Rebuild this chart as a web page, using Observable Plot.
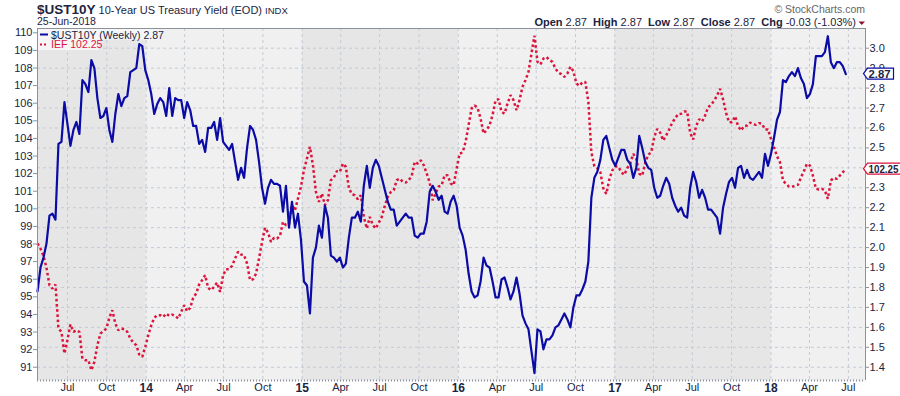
<!DOCTYPE html>
<html><head><meta charset="utf-8">
<script src="https://cdn.jsdelivr.net/npm/d3@7"></script>
<script src="https://cdn.jsdelivr.net/npm/@observablehq/plot@0.6"></script>
<style>
html,body{margin:0;padding:0;background:#fff;}
#wrap{position:relative;width:900px;height:396px;overflow:hidden;}
svg text{white-space:pre;}
</style></head><body><div id="wrap"></div>
<script>
// ---------- data (weekly closes) ----------
const firstWeek = "2013-04-22";
const ust10y = [
1.78,1.90,1.95,2.02,2.16,2.17,2.14,2.52,2.53,2.73,
2.62,2.51,2.59,2.63,2.57,2.84,2.82,2.78,2.94,2.90,
2.75,2.65,2.66,2.70,2.59,2.53,2.67,2.77,2.71,2.75,
2.76,2.88,2.89,2.90,3.02,3.01,2.89,2.84,2.77,2.67,
2.72,2.75,2.73,2.66,2.80,2.66,2.75,2.74,2.74,2.65,
2.73,2.69,2.61,2.61,2.52,2.54,2.48,2.60,2.60,2.63,
2.54,2.65,2.53,2.51,2.49,2.52,2.43,2.34,2.40,2.35,
2.50,2.61,2.59,2.54,2.43,2.30,2.22,2.30,2.34,2.32,
2.32,2.31,2.18,2.31,2.10,2.23,2.10,2.17,2.04,1.83,
1.81,1.67,1.95,2.00,2.11,2.05,2.21,2.15,1.96,1.95,
1.93,1.95,1.90,1.92,2.05,2.15,2.15,2.18,2.13,2.31,
2.41,2.30,2.40,2.44,2.41,2.35,2.29,2.23,2.19,2.19,
2.11,2.13,2.15,2.17,2.15,2.15,2.06,2.05,2.07,2.07,
2.13,2.28,2.31,2.28,2.24,2.26,2.18,2.17,2.23,2.26,
2.21,2.10,2.06,1.99,1.87,1.78,1.75,1.76,1.83,1.95,
1.91,1.90,1.83,1.75,1.75,1.84,1.85,1.80,1.74,1.78,
1.85,1.77,1.66,1.62,1.59,1.48,1.37,1.59,1.58,1.49,
1.54,1.54,1.56,1.60,1.61,1.64,1.67,1.64,1.60,1.70,
1.76,1.76,1.79,1.83,1.93,2.25,2.35,2.38,2.44,2.54,
2.56,2.50,2.44,2.41,2.45,2.49,2.49,2.44,2.42,2.35,
2.40,2.56,2.50,2.43,2.40,2.39,2.30,2.25,2.26,2.31,
2.35,2.32,2.25,2.21,2.18,2.20,2.16,2.15,2.30,2.38,
2.33,2.25,2.29,2.25,2.19,2.19,2.17,2.15,2.07,2.20,
2.27,2.33,2.35,2.30,2.40,2.41,2.35,2.39,2.35,2.34,
2.36,2.38,2.35,2.47,2.41,2.47,2.55,2.64,2.68,2.84,
2.83,2.86,2.88,2.86,2.90,2.85,2.82,2.75,2.77,2.82,
2.96,2.96,2.96,2.98,3.06,2.93,2.90,2.93,2.93,2.91,
2.87];
const ief = [
98.03,97.74,97.33,96.65,95.66,95.47,95.70,93.20,93.01,91.78,
92.54,93.43,93.01,93.10,93.01,91.49,91.40,91.40,90.83,91.31,
92.25,92.91,93.05,93.20,93.81,94.24,93.48,93.10,93.20,93.16,
93.01,92.63,92.40,92.25,91.72,91.59,92.16,92.82,93.39,93.81,
93.96,93.96,93.86,94.05,93.92,93.99,93.92,93.77,94.15,94.52,
94.18,94.37,94.94,95.19,95.70,95.95,96.23,95.51,95.38,95.57,
95.81,95.28,96.23,96.57,96.57,96.76,97.18,97.56,97.40,97.37,
96.89,95.95,96.00,96.32,97.18,98.12,98.92,98.65,98.12,98.35,
98.31,98.46,99.26,99.07,99.11,100.21,99.92,100.59,101.25,102.20,
102.86,103.52,102.48,100.96,100.40,100.87,100.21,100.49,101.63,101.78,
102.14,102.10,102.57,102.38,101.19,100.83,100.77,100.55,100.77,99.54,
98.88,99.54,99.07,98.88,99.22,99.54,100.17,100.68,100.95,101.06,
101.63,101.72,101.53,101.49,101.63,101.87,102.67,102.57,102.76,102.48,
102.01,101.49,100.49,100.87,101.27,101.34,101.91,101.91,101.44,101.34,
102.29,103.14,103.20,103.81,104.75,105.70,105.87,105.74,105.13,104.28,
104.47,104.75,105.32,106.17,106.23,105.51,105.41,105.98,106.46,106.17,
105.60,106.17,106.93,107.31,107.78,108.82,109.83,108.35,108.20,108.54,
108.63,108.45,108.35,107.97,107.74,107.65,107.50,107.69,108.07,107.82,
107.12,106.99,107.18,107.21,106.08,103.22,102.42,102.31,102.08,101.17,
100.85,101.67,102.18,102.40,102.40,102.08,101.93,102.31,102.59,103.12,
102.84,101.99,101.89,102.61,103.07,103.22,104.07,104.54,104.32,103.88,
104.17,104.51,104.89,105.15,105.38,105.40,105.53,105.53,104.32,103.94,
104.70,105.09,104.96,105.30,105.78,105.91,106.14,106.44,106.82,106.21,
105.45,104.92,104.92,105.26,104.70,104.45,104.70,104.73,104.90,104.81,
104.77,104.87,104.83,104.51,104.51,103.98,103.50,102.99,102.65,101.61,
101.42,101.27,101.25,101.32,101.36,101.78,102.14,102.56,102.46,101.89,
101.14,101.10,101.14,101.04,100.57,101.61,101.76,101.70,101.89,102.08,
102.25];
const yieldTicks = [1.4,1.5,1.6,1.7,1.8,1.9,2.0,2.1,2.2,2.3,2.4,2.5,2.6,2.7,2.8,2.9,3.0];
const iefTicks = [91,92,93,94,95,96,97,98,99,100,101,102,103,104,105,106,107,108,109,110];
const monthTicks = ["2013-07-01","2013-10-01","2014-04-01","2014-07-01","2014-10-01",
  "2015-04-01","2015-07-01","2015-10-01","2016-04-01","2016-07-01","2016-10-01",
  "2017-04-01","2017-07-01","2017-10-01","2018-04-01","2018-07-01"];
const yearTicks = ["2014-01-01","2015-01-01","2016-01-01","2017-01-01","2018-01-01"];
const shadedYears = [["2013-04-22","2014-01-01"],["2015-01-01","2016-01-01"],["2017-01-01","2018-01-01"]];
const xDomain = ["2013-04-22","2018-08-10"];
const yDomain = [1.3335, 3.0988];
// left (IEF) axis aligned onto the right (yield) axis: 91 <-> 1.4, 110 <-> 3.077
const iefAxisMap = {ief: [91, 110], yield: [1.4, 3.0772]};
const headerStats = [["Open","2.87"],["High","2.87"],["Low","2.87"],["Close","2.87"],["Chg","-0.03 (-1.03%)"]];

// ---------- build ----------
const BLUE = "#0b0ba6", RED = "#dc143c", INK = "#1b2440", AXIS = "#8c929c";
const toYield = d3.scaleLinear().domain(iefAxisMap.ief).range(iefAxisMap.yield);
const D = s => new Date(s);
const rows = ust10y.map((v, i) => ({date: d3.utcDay.offset(D(firstWeek), 7 * i), ust: v, ief: ief[i]}));
const allTicks = monthTicks.concat(yearTicks).map(D);

const chart = Plot.plot({
  width: 900, height: 396,
  marginTop: 28, marginRight: 35, marginBottom: 16, marginLeft: 37,
  style: {fontFamily: "'Liberation Sans', Arial, sans-serif", fontSize: "11px", color: INK, background: "transparent", overflow: "visible"},
  x: {type: "utc", domain: xDomain.map(D)},
  y: {domain: yDomain},
  marks: [
    Plot.frame({fill: "#f0f0f0", stroke: null}),
    Plot.rect(shadedYears, {x1: d => D(d[0]), x2: d => D(d[1]), fill: "#e6e6e6"}),
    Plot.gridY(yieldTicks, {stroke: "#c3cbd6", strokeOpacity: 1, strokeDasharray: "3,3"}),
    Plot.gridX(allTicks, {stroke: "#c3cbd6", strokeOpacity: 1, strokeDasharray: "3,3"}),
    Plot.line(rows, {x: "date", y: d => toYield(d.ief), stroke: RED, strokeWidth: 2.5, strokeDasharray: "2.6,2.6", strokeLinecap: "butt", strokeLinejoin: "miter"}),
    Plot.line(rows, {x: "date", y: "ust", stroke: BLUE, strokeWidth: 2.2}),
    Plot.axisY(yieldTicks, {anchor: "right", tickFormat: d3.format(".1f"), tickSize: 3, tickPadding: 1, stroke: AXIS, label: null}),
    Plot.axisY(iefTicks.map(toYield), {anchor: "left", tickFormat: d => Math.round(toYield.invert(d)), tickSize: 4, tickPadding: 1, stroke: AXIS, label: null}),
    Plot.axisX(monthTicks.map(D), {tickFormat: d3.utcFormat("%b"), tickSize: 0, tickPadding: 3, label: null}),
    Plot.axisX(yearTicks.map(D), {tickFormat: d3.utcFormat("%y"), tickSize: 0, tickPadding: 3, fontWeight: "bold", fontSize: 12, label: null}),
    Plot.ruleX(xDomain.map(D), {stroke: AXIS}),
    Plot.ruleY([yDomain[1]], {stroke: AXIS}),
    Plot.ruleY([yDomain[0]], {stroke: AXIS, strokeWidth: 2, strokeDasharray: "1,2"})
  ]
});
document.getElementById("wrap").appendChild(chart);

const svg = d3.select(chart);
const ys = chart.scale("y");
const fontFam = "'Liberation Sans', Arial, sans-serif";

// header
const h = svg.append("g").attr("font-family", fontFam).attr("fill", INK).attr("text-anchor", "start");
const t1 = h.append("text").attr("x", 37).attr("y", 14).attr("text-anchor", "start");
t1.append("tspan").attr("font-weight", "bold").attr("font-size", 13.5).text("$UST10Y");
t1.append("tspan").attr("font-size", 11).text(" 10-Year US Treasury Yield (EOD) ");
t1.append("tspan").attr("font-size", 9.5).text("INDX");
h.append("text").attr("x", 37).attr("y", 25).attr("text-anchor", "start").attr("font-size", 10.5).text("25-Jun-2018");
h.append("text").attr("x", 865).attr("y", 13).attr("text-anchor", "end").attr("font-size", 10.5).attr("fill", "#666").text("© StockCharts.com");
const st = h.append("text").attr("x", 856).attr("y", 25.5).attr("text-anchor", "end").attr("font-size", 11);
headerStats.forEach(([k, v], i) => {
  st.append("tspan").attr("font-weight", "bold").text(k);
  st.append("tspan").text(" " + v + (i < headerStats.length - 1 ? "  " : ""));
});
h.append("path").attr("d", "M858.5,21.5L865,21.5L861.75,25Z").attr("fill", "#8b1030");

// legend
const lg = svg.append("g").attr("font-family", fontFam).attr("font-size", 10.5).attr("text-anchor", "start");
lg.append("rect").attr("x", 38).attr("y", 29).attr("width", 121).attr("height", 10.5).attr("fill", "#f6f6f6");
lg.append("rect").attr("x", 38).attr("y", 39.5).attr("width", 61).attr("height", 10.5).attr("fill", "#f6f6f6");
lg.append("line").attr("x1", 40).attr("x2", 48).attr("y1", 34.5).attr("y2", 34.5).attr("stroke", BLUE).attr("stroke-width", 2);
lg.append("text").attr("x", 51).attr("y", 38.5).attr("fill", INK).text("$UST10Y (Weekly) 2.87");
lg.append("line").attr("x1", 40).attr("x2", 48).attr("y1", 44.5).attr("y2", 44.5).attr("stroke", RED).attr("stroke-width", 2).attr("stroke-dasharray", "2,2");
lg.append("text").attr("x", 51).attr("y", 48).attr("fill", RED).text("IEF 102.25");

// last-value tags on the right
function tag(value, label, color, textWidth) {
  const y = ys.apply(value);
  const w = textWidth + 4;
  const g = svg.append("g");
  g.append("path").attr("d", `M863.5,${y}L867.5,${y - 5.5}L${867.5 + w},${y - 5.5}L${867.5 + w},${y + 5.5}L867.5,${y + 5.5}Z`)
    .attr("fill", "#fff").attr("stroke", color).attr("stroke-width", 1.2);
  g.append("text").attr("x", 868.5).attr("y", y + 4).attr("text-anchor", "start").attr("font-family", fontFam)
    .attr("font-size", 11).attr("font-weight", "bold").attr("fill", INK)
    .attr("textLength", textWidth).attr("lengthAdjust", "spacingAndGlyphs").text(label);
}
tag(ust10y[ust10y.length - 1], "2.87", BLUE, 22);
tag(toYield(ief[ief.length - 1]), "102.25", RED, 30);
</script></body></html>
